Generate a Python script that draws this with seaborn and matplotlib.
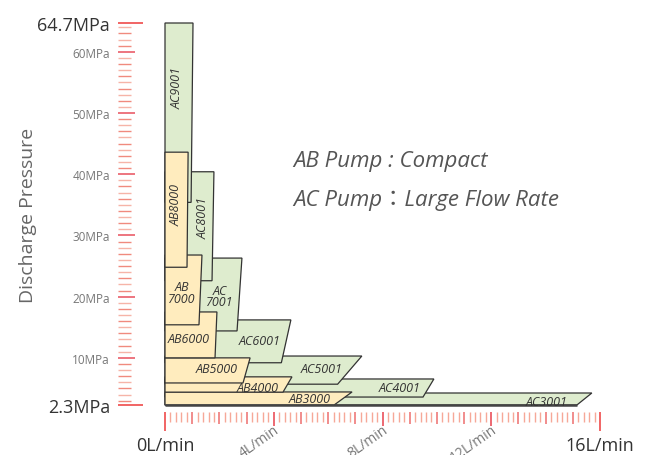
import numpy as np
import seaborn as sns
import matplotlib
matplotlib.use('Agg')
import matplotlib.pyplot as plt
from matplotlib.ticker import FixedLocator, NullFormatter

# AB pumps (compact): pressure band (MPa) and flow (L/min) at top / bottom of the slanted edge
ab_names = ['AB8000', 'AB\n7000', 'AB6000', 'AB5000', 'AB4000', 'AB3000']
ab_top = [43.6, 26.8, 17.5, 10.0, 6.9, 4.43]
ab_bottom = [24.8, 15.4, 10.0, 5.9, 4.4, 2.3]
ab_flow_top = [0.85, 1.36, 1.91, 3.13, 4.67, 6.88]
ab_flow_bottom = [0.81, 1.25, 1.84, 2.87, 4.34, 6.22]

# AC pumps (large flow rate)
ac_names = ['AC9001', 'AC8001', 'AC\n7001', 'AC6001', 'AC5001', 'AC4001', 'AC3001']
ac_top = [64.7, 40.4, 26.3, 16.2, 10.3, 6.55, 4.26]
ac_bottom = [35.4, 22.6, 14.4, 9.2, 5.7, 3.6, 2.3]
ac_flow_top = [1.03, 1.80, 2.83, 4.63, 7.24, 9.89, 15.70]
ac_flow_bottom = [0.96, 1.73, 2.65, 4.28, 6.35, 9.49, 15.15]

y_ticks = [2.3, 10, 20, 30, 40, 50, 60, 64.7]
y_ticklabels = ['2.3MPa', '10MPa', '20MPa', '30MPa', '40MPa', '50MPa', '60MPa', '64.7MPa']
x_ticks = list(range(0, 17))
x_ticklabels = ['0L/min', '', '', '', '4L/min', '', '', '', '8L/min', '', '', '',
                '12L/min', '', '', '', '16L/min']

# where the model names sit inside each band (flow, pressure), and their rotation
ab_label_pos = [(0.40, 35.1), (0.63, 20.7), (0.88, 13.2), (1.91, 8.2), (3.42, 5.1), (5.33, 3.3)]
ab_label_rot = [90, 0, 0, 0, 0, 0]
ac_label_pos = [(0.44, 54.3), (1.40, 33.0), (2.02, 20.1), (3.49, 12.8), (5.77, 8.2),
                (8.64, 5.1), (14.05, 2.9)]
ac_label_rot = [90, 90, 0, 0, 0, 0, 0]

AB_COLOR = '#ffecbe'
AC_COLOR = '#deecce'
EDGE = '#333333'

sns.set_style('white')
plt.rcParams['font.family'] = ['Open Sans', 'DejaVu Sans']

fig = plt.figure(figsize=(6.52, 4.56), dpi=100)
ax = fig.add_axes([165 / 652, 50 / 456, 435 / 652, 382 / 456])
ax.patch.set_visible(False)


def draw_band(top, bottom, ft, fb, color, z):
    xs = [0, 0, ft, fb]
    ys = [bottom, top, top, bottom]
    ax.fill(xs, ys, facecolor=color, edgecolor=EDGE, linewidth=0.9,
            zorder=z, clip_on=False)


# AC bands behind, AB bands in front; higher pressure band covers the one below it
for i in range(len(ac_names)):
    draw_band(ac_top[i], ac_bottom[i], ac_flow_top[i], ac_flow_bottom[i],
              AC_COLOR, 10 - i)
for i in range(len(ab_names)):
    draw_band(ab_top[i], ab_bottom[i], ab_flow_top[i], ab_flow_bottom[i],
              AB_COLOR, 30 - i)

# heavier base line along the bottom of the chart
ax.plot([0, max(ac_flow_bottom)], [2.3, 2.3], color='#444444', linewidth=1.8,
        solid_capstyle='butt', zorder=40, clip_on=False)

for name, (fx, py), rot in zip(ab_names, ab_label_pos, ab_label_rot):
    ax.text(fx, py, name, fontsize=9, style='italic', color='#333333',
            ha='center', va='center', rotation=rot, linespacing=0.85, zorder=50)
for name, (fx, py), rot in zip(ac_names, ac_label_pos, ac_label_rot):
    ax.text(fx, py, name, fontsize=9, style='italic', color='#333333',
            ha='center', va='center', rotation=rot, linespacing=0.85, zorder=50)

ax.set_xlim(0, 16)
ax.set_ylim(2.3, 64.7)

for side in ['top', 'right', 'left', 'bottom']:
    ax.spines[side].set_visible(False)
ax.spines['left'].set_position(('outward', 47 * 0.72))
ax.spines['bottom'].set_position(('outward', 7 * 0.72))

# y axis ticks (drawn to the right from a hidden spine)
ax.set_yticks(y_ticks)
ax.set_yticklabels(y_ticklabels)
ax.yaxis.set_minor_locator(FixedLocator([v for v in range(3, 65) if v % 10 != 0]))
ax.tick_params(axis='y', which='major', direction='in', length=12.2, width=1.1,
               pad=5.8, left=True, right=False, labelsize=8.5, labelcolor='#777777')
ax.tick_params(axis='y', which='minor', direction='in', length=9.0, width=1.0,
               left=True, right=False)

for t, val in zip(ax.yaxis.get_major_ticks(), y_ticks):
    if val in (2.3, 64.7):
        t.tick1line.set_markersize(18)
        t.tick1line.set_markeredgecolor('#ee3b3b')
        t.label1.set_fontsize(13)
        t.label1.set_color('#333333')
    else:
        t.tick1line.set_markeredgecolor('#e8505c')
for k, t in enumerate(ax.yaxis.get_minor_ticks()):
    t.tick1line.set_markeredgecolor('#f08a7e' if k % 2 == 0 else '#f6b4a8')

# x axis ticks
ax.set_xticks(x_ticks)
ax.set_xticklabels(x_ticklabels)
ax.xaxis.set_minor_locator(FixedLocator(
    [round(i * 0.2, 1) for i in range(81) if i % 5 != 0]))
ax.xaxis.set_minor_formatter(NullFormatter())
ax.tick_params(axis='x', which='major', direction='out', length=8.6, width=1.1,
               bottom=True, top=False, labelsize=13, labelcolor='#333333')
ax.tick_params(axis='x', which='minor', direction='out', length=7.2, width=1.0,
               bottom=True, top=False)

for t, val in zip(ax.xaxis.get_major_ticks(), x_ticks):
    if val in (0, 16):
        t.set_pad(8.6)
        t.tick1line.set_markersize(13.7)
        t.tick1line.set_markeredgecolor('#ee3b3b')
    elif val % 4 == 0:
        t.set_pad(-1.5)
        t.tick1line.set_markersize(10.1)
        t.tick1line.set_markeredgecolor('#e8404c')
        t.label1.set_fontsize(10)
        t.label1.set_color('#777777')
        t.label1.set_rotation(35)
        t.label1.set_ha('right')
        t.label1.set_va('top')
        t.label1.set_rotation_mode('anchor')
    else:
        t.tick1line.set_markeredgecolor('#ee6e6e')
for t in ax.xaxis.get_minor_ticks():
    t.tick1line.set_markeredgecolor('#f6a898')

ax.set_ylabel('Discharge Pressure', fontsize=14, color='#666666')
ax.yaxis.set_label_coords(-0.295, 0.5)

ax.text(0.294, 0.639, 'AB Pump : Compact', transform=ax.transAxes, fontsize=16,
        style='italic', color='#555555', ha='left', va='center')
ax.text(0.294, 0.537, 'AC Pump：Large Flow Rate', transform=ax.transAxes, fontsize=16,
        style='italic', color='#555555', ha='left', va='center',
        family=['Open Sans', 'Noto Sans CJK JP', 'DejaVu Sans'])

fig.savefig('out.png', dpi=100)
